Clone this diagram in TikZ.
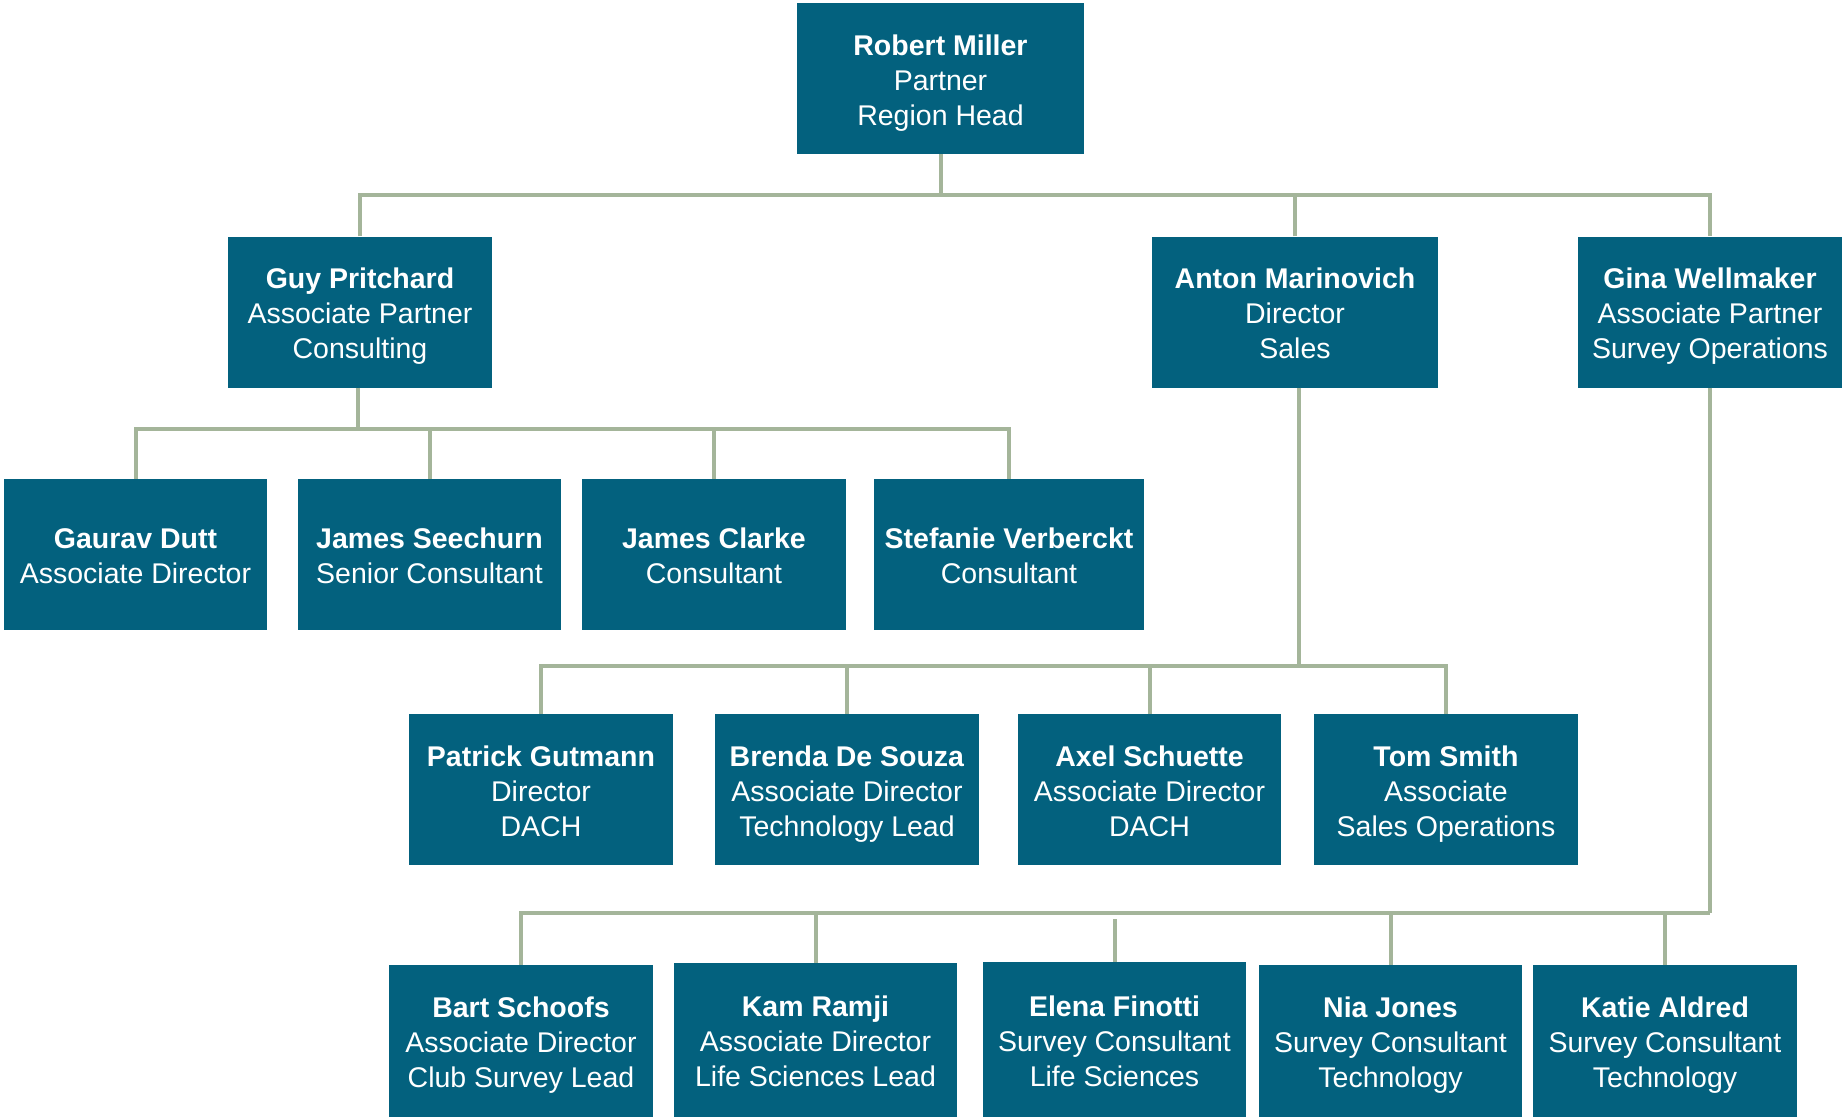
\documentclass[tikz,border=0pt]{standalone}
\usepackage{fontspec}
\setmainfont{Liberation Sans}
\definecolor{boxteal}{HTML}{03617E}
\definecolor{linkgreen}{HTML}{A4B59A}
\newcommand{\ls}{\rule[-6pt]{0pt}{35pt}}
\begin{document}
\begin{tikzpicture}[x=1pt,y=-1pt,
  box/.style={rectangle, fill=boxteal, text=white, inner sep=0pt, align=center,
    minimum height=151pt, font=\fontsize{28.5}{35}\selectfont},
  link/.style={draw=linkgreen, line width=4pt, line join=miter}]
\fill[white] (0,0) rectangle (1845,1117);
\useasboundingbox (0,0) rectangle (1845,1117);
% level 0
\node[box, minimum width=287pt] (rm) at (940.5,78.5) {\ls\textbf{Robert Miller}\\\ls Partner\\\ls Region Head};
% level 1
\node[box, minimum width=264pt] (gp) at (360,312) {\ls\textbf{Guy Pritchard}\\\ls Associate Partner\\\ls Consulting};
\node[box, minimum width=286pt] (am) at (1295,312) {\ls\textbf{Anton Marinovich}\\\ls Director\\\ls Sales};
\node[box, minimum width=264pt] (gw) at (1710,312) {\ls\textbf{Gina Wellmaker}\\\ls Associate Partner\\\ls Survey Operations};
% level 2
\node[box, minimum width=263pt] (gd) at (135.5,554.5) {\ls\textbf{Gaurav Dutt}\\\ls Associate Director};
\node[box, minimum width=263pt] (js) at (429.5,554.5) {\ls\textbf{James Seechurn}\\\ls Senior Consultant};
\node[box, minimum width=264pt] (jc) at (714,554.5) {\ls\textbf{James Clarke}\\\ls Consultant};
\node[box, minimum width=270pt] (sv) at (1009,554.5) {\ls\textbf{Stefanie Verberckt}\\\ls Consultant};
% level 3
\node[box, minimum width=264pt] (pg) at (541,789.5) {\ls\textbf{Patrick Gutmann}\\\ls Director\\\ls DACH};
\node[box, minimum width=264pt] (bd) at (847,789.5) {\ls\textbf{Brenda De Souza}\\\ls Associate Director\\\ls Technology Lead};
\node[box, minimum width=263pt] (as) at (1149.5,789.5) {\ls\textbf{Axel Schuette}\\\ls Associate Director\\\ls DACH};
\node[box, minimum width=264pt] (ts) at (1446,789.5) {\ls\textbf{Tom Smith}\\\ls Associate\\\ls Sales Operations};
% level 4
\node[box, minimum width=264pt, minimum height=152pt] (bs) at (521,1041) {\ls\textbf{Bart Schoofs}\\\ls Associate Director\\\ls Club Survey Lead};
\node[box, minimum width=283pt, minimum height=154pt] (kr) at (815.5,1040) {\ls\textbf{Kam Ramji}\\\ls Associate Director\\\ls Life Sciences Lead};
\node[box, minimum width=263pt, minimum height=155pt] (ef) at (1114.5,1039.5) {\ls\textbf{Elena Finotti}\\\ls Survey Consultant\\\ls Life Sciences};
\node[box, minimum width=263pt, minimum height=152pt] (nj) at (1390.5,1041) {\ls\textbf{Nia Jones}\\\ls Survey Consultant\\\ls Technology};
\node[box, minimum width=264pt, minimum height=152pt] (ka) at (1665,1041) {\ls\textbf{Katie Aldred}\\\ls Survey Consultant\\\ls Technology};
% bus coordinates
\coordinate (b1) at (940.5,195);
\coordinate (b2) at (358,429);
\coordinate (b3) at (1299,666);
\coordinate (b4) at (1710,913);
% level 1 links
\draw[link] (rm.south) -- (b1);
\draw[link] (gp.north) |- (b1) -| (gw.north);
\draw[link] (am.north) -- (am.north |- b1);
% level 2 links
\draw[link] ([xshift=-2pt]gp.south) -- (b2);
\draw[link] (gd.north) |- (b2) -| (sv.north);
\draw[link] (js.north) -- (js.north |- b2);
\draw[link] (jc.north) -- (jc.north |- b2);
% level 3 links
\draw[link] ([xshift=4pt]am.south) -- (b3);
\draw[link] (pg.north) |- (b3) -| (ts.north);
\draw[link] (bd.north) -- (bd.north |- b3);
\draw[link] (as.north) -- (as.north |- b3);
% level 4 links
\draw[link] (gw.south) -- (b4);
\draw[link] (bs.north) |- (b4);
\draw[link] (kr.north) -- (kr.north |- b4);
\draw[link] (ef.north) -- ([yshift=-6pt]ef.north |- b4);
\draw[link] (nj.north) -- (nj.north |- b4);
\draw[link] (ka.north) -- (ka.north |- b4);
\end{tikzpicture}
\end{document}
